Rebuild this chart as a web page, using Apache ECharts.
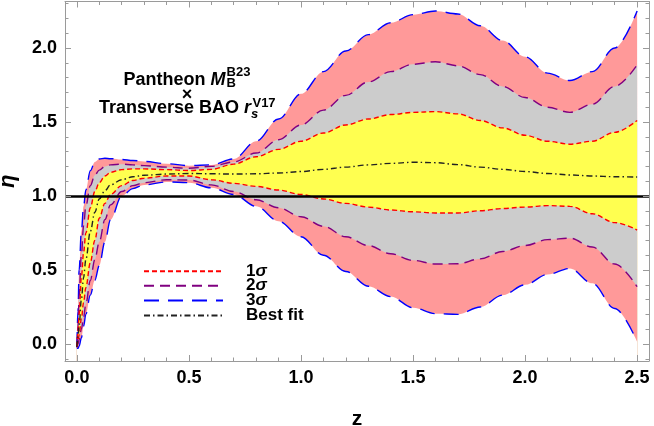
<!DOCTYPE html>
<html>
<head>
<meta charset="utf-8">
<script src="https://cdn.jsdelivr.net/npm/echarts@6/dist/echarts.min.js"></script>
<style>html,body{margin:0;padding:0;background:#fff}#c{width:654px;height:426px}</style>
</head>
<body>
<div id="c"></div>
<script>
// ---- data ----
const zVals = [0,0.005,0.01,0.02,0.03,0.04,0.06,0.08,0.1,0.125,0.15,0.2,0.25,0.3,0.4,0.5,0.6,0.7,0.8,0.9,1.0,1.1,1.2,1.3,1.4,1.5,1.6,1.7,1.8,1.9,2.0,2.1,2.2,2.3,2.4,2.5];
const up3 = [-0.02,0.22,0.5,0.76,0.93,1.04,1.17,1.23,1.25,1.255,1.252,1.247,1.24,1.233,1.218,1.205,1.21,1.25,1.37,1.52,1.69,1.84,1.98,2.09,2.17,2.225,2.25,2.23,2.15,2.05,1.94,1.83,1.78,1.84,2.0,2.25];
const up2 = [-0.02,0.12,0.32,0.6,0.8,0.93,1.07,1.14,1.175,1.2,1.21,1.215,1.21,1.205,1.195,1.187,1.2,1.23,1.29,1.38,1.48,1.58,1.68,1.77,1.84,1.89,1.907,1.88,1.82,1.74,1.665,1.6,1.565,1.62,1.74,1.885];
const up1 = [-0.02,0.08,0.2,0.45,0.62,0.75,0.92,1.03,1.09,1.135,1.16,1.178,1.183,1.183,1.178,1.172,1.18,1.215,1.265,1.315,1.37,1.425,1.48,1.52,1.55,1.565,1.57,1.555,1.51,1.46,1.41,1.37,1.35,1.37,1.43,1.51];
const bestFit = [-0.02,0.05,0.12,0.3,0.45,0.57,0.76,0.89,0.98,1.035,1.075,1.11,1.13,1.14,1.148,1.152,1.15,1.148,1.15,1.155,1.165,1.18,1.195,1.21,1.22,1.228,1.225,1.212,1.195,1.18,1.165,1.152,1.142,1.135,1.13,1.128];
const lo1 = [-0.02,0.02,0.06,0.17,0.28,0.38,0.55,0.7,0.85,0.95,1.01,1.07,1.105,1.12,1.135,1.135,1.11,1.085,1.065,1.04,1.01,0.98,0.95,0.925,0.905,0.893,0.885,0.885,0.9,0.915,0.925,0.935,0.93,0.88,0.82,0.77];
const lo2 = [-0.025,0.0,0.03,0.1,0.18,0.27,0.43,0.57,0.69,0.84,0.94,1.03,1.07,1.09,1.11,1.108,1.075,1.03,0.975,0.92,0.86,0.795,0.725,0.665,0.61,0.565,0.54,0.542,0.575,0.625,0.665,0.705,0.715,0.655,0.54,0.387];
const lo3 = [-0.03,-0.03,-0.015,0.04,0.12,0.2,0.33,0.43,0.53,0.69,0.84,1.0,1.05,1.075,1.095,1.09,1.055,1.01,0.93,0.83,0.725,0.6,0.49,0.39,0.32,0.245,0.205,0.2,0.25,0.33,0.4,0.47,0.51,0.41,0.24,0.016];
const refLevel = 1.0;

const xMajor = [0,0.5,1,1.5,2,2.5];
const xMinor = [0.1,0.2,0.3,0.4,0.6,0.7,0.8,0.9,1.1,1.2,1.3,1.4,1.6,1.7,1.8,1.9,2.1,2.2,2.3,2.4];
const yMajor = [0,0.5,1,1.5,2];
const yMinor = [-0.1,0.1,0.2,0.3,0.4,0.6,0.7,0.8,0.9,1.1,1.2,1.3,1.4,1.6,1.7,1.8,1.9,2.1,2.2,2.3];
const legendNames = ['1σ','2σ','3σ','Best fit'];

// ---- styling ----
const FONT = '"Liberation Sans", Arial, sans-serif';
const FRAME = '#9a9a9a';
const XMIN = -0.053, XMAX = 2.553, YMIN = -0.115, YMAX = 2.314;
const PINK = '#ff9999', GREY = '#cccccc', YELLOW = '#ffff50';

const pairs = arr => zVals.map((z,i)=>[z,arr[i]]);
const SM = {smooth:0.35, smoothMonotone:'x'};

// layered fills: each curve fills down to the axis bottom; drawing order builds the bands
function fill(arr, color, z){
  return Object.assign({type:'line', data:pairs(arr), symbol:'none', silent:true,
    lineStyle:{width:0, opacity:0}, areaStyle:{color:color, opacity:1, origin:'start'}, z:z}, SM);
}
function curve(name, arr, color, dash, w){
  return Object.assign({type:'line', name:name, data:pairs(arr), symbol:'none',
    itemStyle:{color:color}, lineStyle:{color:color, width:w||1.4, type:dash}, z:3}, SM);
}

const series = [
  fill(up3, PINK, 1),
  fill(up2, GREY, 1),
  fill(up1, YELLOW, 1),
  fill(lo1, GREY, 1),
  fill(lo2, PINK, 1),
  fill(lo3, '#ffffff', 1),
  curve('3σ', up3, '#0000ff', [15,9]),
  curve('3σ', lo3, '#0000ff', [15,9]),
  curve('2σ', up2, '#800080', [10,6]),
  curve('2σ', lo2, '#800080', [10,6]),
  curve('1σ', up1, '#ff0000', [5,3]),
  curve('1σ', lo1, '#ff0000', [5,3]),
  Object.assign(curve('Best fit', bestFit, '#222222', [6,3,1.5,3], 1.4), {
    markLine:{silent:true, symbol:['none','none'], label:{show:false},
      lineStyle:{color:'#000', width:2.6, type:'solid'}, data:[{yAxis:refLevel}]}, z:4})
];

function axBase(min, max, pos, vals, len, labels, lineOpacity, extra){
  return Object.assign({type:'value', min:min, max:max, position:pos, offset:0, z:10,
    axisLine:{show:true, onZero:false, lineStyle:{color:FRAME, width:1, opacity:lineOpacity}},
    axisTick:{show:true, inside:true, length:len, customValues:vals, lineStyle:{color:FRAME}},
    axisLabel:labels ? {show:true, customValues:vals, formatter:v=>v.toFixed(1), color:'#000',
      fontFamily:FONT, fontWeight:'bold', fontSize:18, margin:8} : {show:false},
    splitLine:{show:false}}, extra||{});
}
const xAx = (p,v,l,lab,op,e) => axBase(XMIN, XMAX, p, v, l, lab, op, e);
const yAx = (p,v,l,lab,op,e) => axBase(YMIN, YMAX, p, v, l, lab, op, e);

const legendRows = [269.7, 284.3, 299, 314];
const legends = legendNames.map((n,i)=>({
  data:[n], orient:'vertical', left:143, top:legendRows[i]-7, padding:0,
  itemWidth:79, itemHeight:14, selectedMode:false,
  itemStyle:{opacity:0},
  formatter: s => s.replace('σ','{i|σ}'),
  textStyle:{fontFamily:FONT, fontWeight:'bold', fontSize:17, color:'#000', lineHeight:14, padding:[0,0,0,18],
    rich:{i:{fontFamily:FONT, fontWeight:'bold', fontStyle:'italic', fontSize:17, color:'#000', lineHeight:14}}}
}));

// ---- annotation text ----
const cv = document.createElement('canvas').getContext('2d');
function tw(t, f){ cv.font = f; return cv.measureText(t).width; }
const fMain = 'bold 18px ' + FONT, fIt = 'italic bold 18px ' + FONT, fSm = 'bold 13px ' + FONT, fSmIt = 'italic bold 13px ' + FONT;
const cx = 187;
function textEl(x, y, t, sz, italic){
  return {type:'text', x:x, y:y, z:100, silent:true,
    style:{text:t, x:0, y:0, fill:'#000', font:(italic?'italic ':'')+'bold '+sz+'px '+FONT, textAlign:'left', textVerticalAlign:'middle'}};
}
const g = [];
{
  const a = tw('Pantheon ', fMain), m = tw('M', fIt), s = Math.max(tw('B', fSm), tw('B23', fSm));
  const x0 = cx - (a + m + 1 + s)/2;
  g.push(textEl(x0, 80, 'Pantheon ', 18, false));
  g.push(textEl(x0 + a, 80, 'M', 18, true));
  g.push(textEl(x0 + a + m + 1, 83.5, 'B', 13, false));
  g.push(textEl(x0 + a + m + 1, 72.5, 'B23', 13, false));
}
{
  const w = tw('×', fMain);
  g.push(textEl(cx - w/2, 95, '×', 18, false));
}
{
  const a = tw('Transverse BAO ', fMain), r = tw('r', fIt), s = Math.max(tw('s', fSmIt), tw('V17', fSm));
  const x0 = cx - (a + r + 1 + s)/2;
  g.push(textEl(x0, 108, 'Transverse BAO ', 18, false));
  g.push(textEl(x0 + a, 108, 'r', 18, true));
  g.push(textEl(x0 + a + r, 114.5, 's', 13, true));
  g.push(textEl(x0 + a + r + 1.5, 103.5, 'V17', 13, false));
}

const chart = echarts.init(document.getElementById('c'), null, {renderer:'canvas'});
chart.setOption({
  animation:false,
  backgroundColor:'#fff',
  grid:{left:65, right:5, top:1.5, bottom:65, containLabel:false, outerBoundsMode:'none'},
  legend: legends,
  xAxis:[
    xAx('bottom', xMajor, 6, true, 1, {name:'z', nameLocation:'middle', nameGap:48,
      nameTextStyle:{fontFamily:FONT, fontWeight:'bold', fontSize:21, color:'#000'}}),
    xAx('bottom', xMinor, 3.5, false, 0),
    xAx('top', xMajor, 6, false, 1),
    xAx('top', xMinor, 3.5, false, 0)
  ],
  yAxis:[
    yAx('left', yMajor, 6, true, 1, {name:'η', nameLocation:'middle', nameGap:46, nameRotate:90,
      nameTextStyle:{fontFamily:FONT, fontWeight:'bold', fontStyle:'italic', fontSize:22, color:'#000'}}),
    yAx('left', yMinor, 3.5, false, 0),
    yAx('right', yMajor, 6, false, 1),
    yAx('right', yMinor, 3.5, false, 0)
  ],
  series: series,
  graphic: g
});
</script>
</body>
</html>
